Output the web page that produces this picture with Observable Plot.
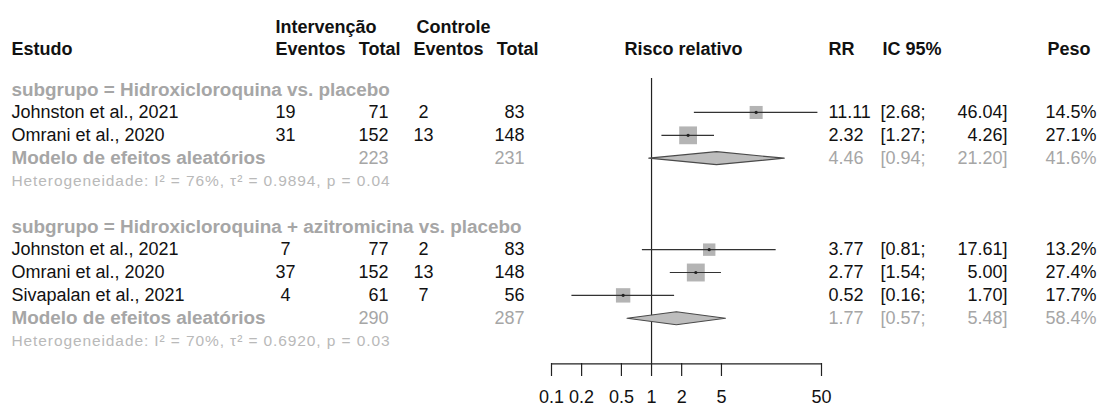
<!DOCTYPE html>
<html>
<head>
<meta charset="utf-8">
<script src="https://cdn.jsdelivr.net/npm/d3@7"></script>
<script src="https://cdn.jsdelivr.net/npm/@observablehq/plot@0.6"></script>
<style>
  html, body { margin: 0; padding: 0; background: #fff; }
  #chart svg { display: block; }
</style>
</head>
<body>
<div id="chart"></div>
<script>
// ---------------- data ----------------
const subgroupLabels = ["Hidroxicloroquina vs. placebo", "Hidroxicloroquina + azitromicina vs. placebo"];
const studyNames   = ["Johnston et al., 2021", "Omrani et al., 2020", "Johnston et al., 2021", "Omrani et al., 2020", "Sivapalan et al., 2021"];
const studyGroup   = [0, 0, 1, 1, 1];
const eventsInt    = [19, 31, 7, 37, 4];
const totalInt     = [71, 152, 77, 152, 61];
const eventsCtl    = [2, 13, 2, 13, 7];
const totalCtl     = [83, 148, 83, 148, 56];
const rrStudy      = [11.11, 2.32, 3.77, 2.77, 0.52];
const loStudy      = [2.68, 1.27, 0.81, 1.54, 0.16];
const hiStudy      = [46.04, 4.26, 17.61, 5.00, 1.70];
const weightStudy  = [14.5, 27.1, 13.2, 27.4, 17.7];

const rrModel      = [4.46, 1.77];
const loModel      = [0.94, 0.57];
const hiModel      = [21.20, 5.48];
const weightModel  = [41.6, 58.4];
const totalIntModel = [223, 290];
const totalCtlModel = [231, 287];
const hetI2        = [76, 70];
const hetTau2      = ["0.9894", "0.6920"];
const hetP         = ["0.04", "0.03"];

const axisTicks    = [0.1, 0.2, 0.5, 1, 2, 5, 50];
const axisTickLabels = ["0.1", "0.2", "0.5", "1", "2", "5", "50"];

// ---------------- layout rows (row index = y value) ----------------
const subgroupRows = [], studyRows = [], modelRows = [], hetRows = [];
let row = 0;
subgroupLabels.forEach((lab, g) => {
  subgroupRows.push({r: row, text: "subgrupo = " + lab});
  row++;
  studyNames.forEach((name, i) => {
    if (studyGroup[i] !== g) return;
    studyRows.push({r: row, name, ei: eventsInt[i], ti: totalInt[i], ec: eventsCtl[i], tc: totalCtl[i],
      rr: rrStudy[i], lo: loStudy[i], hi: hiStudy[i], w: weightStudy[i]});
    row++;
  });
  modelRows.push({r: row, g, rr: rrModel[g], lo: loModel[g], hi: hiModel[g], w: weightModel[g],
    ti: totalIntModel[g], tc: totalCtlModel[g]});
  row++;
  hetRows.push({r: row, text: `Heterogeneidade: I² = ${hetI2[g]}%, τ² = ${hetTau2[g]}, p = ${hetP[g]}`});
  row++;
  row++; // blank line between subgroups
});
const axisRow = row - 1;          // the x axis sits on the row after the last heterogeneity line
const headerRow = -1.76, headerTopRow = -2.72, refTopRow = -0.49;

const diamondHalf = 0.285;
const diamondPts = modelRows.flatMap(m => [
  {g: m.g, x: m.lo, y: m.r},
  {g: m.g, x: m.rr, y: m.r - diamondHalf},
  {g: m.g, x: m.hi, y: m.r},
  {g: m.g, x: m.rr, y: m.r + diamondHalf},
  {g: m.g, x: m.lo, y: m.r}
]);
const axisData = axisTicks.map((v, i) => ({v, label: axisTickLabels[i]}));

const f2 = d3.format(".2f");
const f1 = d3.format(".1f");

const BLACK = "#111", GRAY = "#a6a6a6", LIGHT = "#b9b9b9";
const FS = 18, FS_GRAY = 18.9;

function label(text, dx, y, anchor, opts = {}) {
  return Plot.text([text], {text: d => d, frameAnchor: "left", dx, y, textAnchor: anchor,
    fontSize: FS, fontWeight: "bold", fill: BLACK, ...opts});
}
function col(data, text, dx, anchor, opts = {}) {
  return Plot.text(data, {text, y: "r", frameAnchor: "left", dx, textAnchor: anchor, fontSize: FS, ...opts});
}

const chart = Plot.plot({
  width: 1104,
  height: 410,
  marginTop: 0, marginLeft: 0, marginRight: 0, marginBottom: 47,
  style: {fontFamily: "'Liberation Sans', Arial, sans-serif", background: "#fff", color: "#111"},
  x: {type: "log", domain: [0.1, 50], range: [551, 821]},
  y: {domain: [0, 11], range: [89.1, 340.6], axis: null},
  r: {type: "sqrt", domain: [0, 100], range: [0, 19.3]},
  marks: [
    // headers
    label("Intervenção", 275, headerTopRow, "start"),
    label("Controle", 416, headerTopRow, "start"),
    label("Estudo", 11, headerRow, "start"),
    label("Eventos", 275, headerRow, "start"),
    label("Total", 400, headerRow, "end"),
    label("Eventos", 483, headerRow, "end"),
    label("Total", 538, headerRow, "end"),
    label("Risco relativo", 624, headerRow, "start"),
    label("RR", 828, headerRow, "start"),
    label("IC 95%", 882, headerRow, "start"),
    label("Peso", 1090, headerRow, "end"),

    // subgroup labels
    col(subgroupRows, "text", 11, "start", {fill: GRAY, fontWeight: "bold", fontSize: FS_GRAY}),
    // study rows
    col(studyRows, "name", 11, "start", {fill: BLACK}),
    col(studyRows, "ei", 285, "middle", {fill: BLACK}),
    col(studyRows, "ti", 388, "end", {fill: BLACK}),
    col(studyRows, "ec", 423, "middle", {fill: BLACK}),
    col(studyRows, "tc", 524, "end", {fill: BLACK}),
    col(studyRows, d => f2(d.rr), 828, "start", {fill: BLACK}),
    col(studyRows, d => "[" + f2(d.lo) + ";", 880, "start", {fill: BLACK}),
    col(studyRows, d => f2(d.hi) + "]", 1007, "end", {fill: BLACK}),
    col(studyRows, d => f1(d.w) + "%", 1096, "end", {fill: BLACK}),
    // model rows
    col(modelRows, () => "Modelo de efeitos aleatórios", 11, "start", {fill: GRAY, fontWeight: "bold", fontSize: FS_GRAY}),
    col(modelRows, "ti", 388, "end", {fill: GRAY}),
    col(modelRows, "tc", 524, "end", {fill: GRAY}),
    col(modelRows, d => f2(d.rr), 828, "start", {fill: GRAY}),
    col(modelRows, d => "[" + f2(d.lo) + ";", 880, "start", {fill: GRAY}),
    col(modelRows, d => f2(d.hi) + "]", 1007, "end", {fill: GRAY}),
    col(modelRows, d => f1(d.w) + "%", 1096, "end", {fill: GRAY}),
    // heterogeneity
    col(hetRows, "text", 11, "start", {fill: LIGHT, fontSize: 15.5}),

    // forest plot
    Plot.ruleX([1], {y1: refTopRow, y2: axisRow, stroke: "#222", strokeWidth: 1.2}),
    Plot.dot(studyRows, {x: "rr", y: "r", r: "w", symbol: "square", fill: "#b4b4b4", stroke: "none"}),
    Plot.ruleY(studyRows, {y: "r", x1: "lo", x2: "hi", stroke: "#333", strokeWidth: 1.2}),
    Plot.dot(studyRows, {x: "rr", y: "r", r: 1.6, fill: "#222", stroke: "none"}),
    Plot.line(diamondPts, {x: "x", y: "y", z: "g", fill: "#bdbdbd", stroke: "#4a4a4a", strokeWidth: 1.2, curve: "linear"}),

    // axis
    Plot.ruleY([axisRow], {x1: axisTicks[0], x2: axisTicks[axisTicks.length - 1], stroke: "#222", strokeWidth: 1.2}),
    Plot.axisX(axisTicks, {anchor: "bottom", tickSize: 13, tickFormat: () => "", stroke: "#222",
      strokeWidth: 1.2, label: null}),
    Plot.text(axisData, {x: "v", text: "label", frameAnchor: "bottom", dy: 39, fontSize: FS, fill: "#111"})
  ]
});
document.getElementById("chart").append(chart);
chart.querySelectorAll("text").forEach(t => {
  if (t.textContent.startsWith("Heterogeneidade")) t.setAttribute("letter-spacing", "0.9");
});
</script>
</body>
</html>
